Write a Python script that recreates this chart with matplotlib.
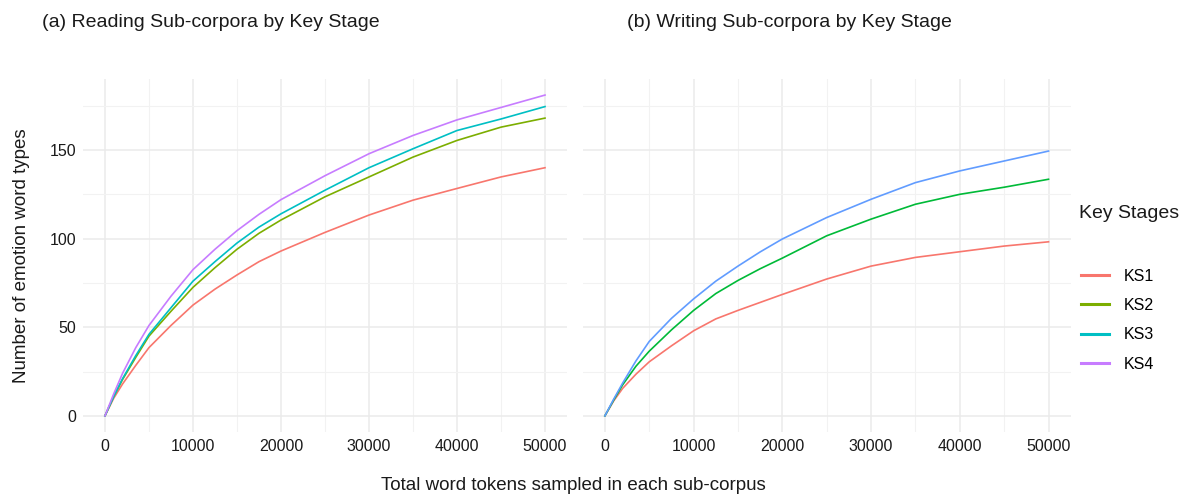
import matplotlib
matplotlib.use("Agg")
from matplotlib import pyplot as plt
from matplotlib.lines import Line2D

plt.rcParams['font.family'] = ['Liberation Sans', 'DejaVu Sans']

# tokens sampled
tokens = [0, 1000, 2000, 3500, 5000, 7500, 10000, 12500, 15000, 17500, 20000,
          25000, 30000, 35000, 40000, 45000, 50000]

# (a) reading sub-corpora, emotion word types found
read_ks1 = [0, 10, 18, 28.5, 38.5, 51, 62.5, 71.5, 79.5, 87, 93, 103.5, 113.3, 121.7, 128.3, 134.8, 140]
read_ks2 = [0, 11, 20.5, 33, 45, 59, 72.5, 83.6, 94, 103, 110.5, 123.6, 134.8, 146, 155.4, 162.9, 168]
read_ks3 = [0, 11, 21, 34, 46, 61, 76, 87, 97.5, 106.5, 114, 127.3, 140, 150.7, 161, 167.5, 174.5]
read_ks4 = [0, 12.5, 24, 38.5, 51, 67.5, 82.5, 94, 104.5, 113.7, 122, 135.5, 147.9, 158.2, 167, 174, 181]

# (b) writing sub-corpora
write_ks1 = [0, 8.5, 15.5, 23.5, 30.5, 39.5, 48, 54.7, 59.5, 64, 68.5, 77.2, 84.5, 89.4, 92.6, 95.8, 98.2]
write_ks2 = [0, 9, 17.5, 28, 36.5, 48.5, 59.5, 69, 76.4, 83, 89, 101.6, 111, 119.4, 125, 129, 133.5]
write_ks3 = [0, 9.5, 18.5, 31, 42, 55, 66, 76, 84.5, 92.5, 99.8, 111.9, 122.2, 131.6, 138.2, 143.8, 149.4]

stages = ['KS1', 'KS2', 'KS3', 'KS4']
cols4 = ['#F8766D', '#7CAE00', '#00BFC4', '#C77CFF']
cols3 = ['#F8766D', '#00BA38', '#619CFF']

fig = plt.figure(figsize=(11.99, 4.97), dpi=100)
ax1 = fig.add_axes([0.0692, 0.131, 0.4037, 0.710])
ax2 = fig.add_axes([0.486, 0.131, 0.407, 0.710])

for ys, c in zip([read_ks1, read_ks2, read_ks3, read_ks4], cols4):
    ax1.plot(tokens, ys, color=c, lw=1.2)
for ys, c in zip([write_ks1, write_ks2, write_ks3], cols3):
    ax2.plot(tokens, ys, color=c, lw=1.2)

allvals = read_ks1 + read_ks2 + read_ks3 + read_ks4 + write_ks1 + write_ks2 + write_ks3
lo, hi = min(allvals), max(allvals)
pad = (hi - lo) * 0.05

for ax in (ax1, ax2):
    ax.set_xlim(-2500, 52500)
    ax.set_ylim(lo - pad, hi + pad)
    ax.set_xticks([0, 10000, 20000, 30000, 40000, 50000])
    ax.set_xticks([5000, 15000, 25000, 35000, 45000], minor=True)
    ax.set_yticks([0, 50, 100, 150])
    ax.set_yticks([25, 75, 125, 175], minor=True)
    ax.grid(which='major', color='#EBEBEB', lw=1.1)
    ax.grid(which='minor', color='#F2F2F2', lw=0.8)
    ax.set_axisbelow(True)
    for s in ax.spines.values():
        s.set_visible(False)
    ax.tick_params(which='both', length=0, labelsize=11.5, colors='#1a1a1a', pad=5)

ax2.tick_params(labelleft=False)
ax1.set_ylabel('Number of emotion word types', fontsize=13.5, color='#1a1a1a', labelpad=14)

fig.text(0.035, 0.955, '(a) Reading Sub-corpora by Key Stage', fontsize=14, va='center', color='#1a1a1a')
fig.text(0.523, 0.955, '(b) Writing Sub-corpora by Key Stage', fontsize=14, va='center', color='#1a1a1a')
fig.text(0.478, 0.024, 'Total word tokens sampled in each sub-corpus', fontsize=13.5,
         ha='center', va='center', color='#1a1a1a')

# legend: title drawn on its own, ggplot-style gap below it
fig.text(0.9, 0.571, 'Key Stages', fontsize=14, va='center', ha='left', color='#1a1a1a')
handles = [Line2D([], [], color=c, lw=2.2) for c in cols4]
fig.legend(handles, stages, loc='center left', bbox_to_anchor=(0.902, 0.356),
           frameon=False, fontsize=11.5, handlelength=1.7, labelspacing=0.9,
           handletextpad=0.95, borderpad=0, borderaxespad=0)

fig.savefig('out.png', dpi=100)
